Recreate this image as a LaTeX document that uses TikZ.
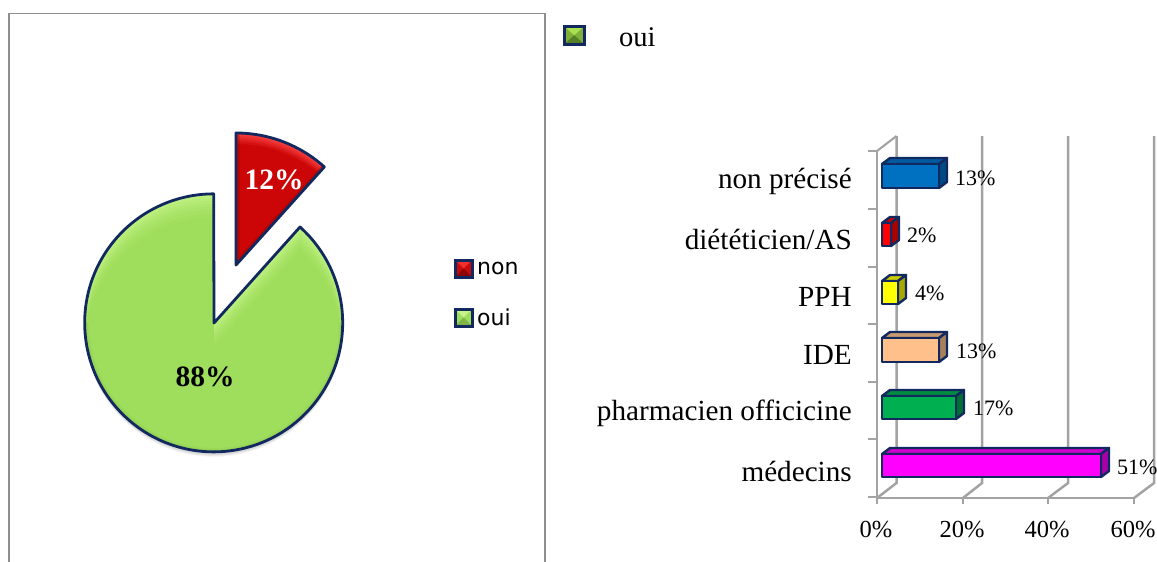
\documentclass[tikz,border=0pt]{standalone}
\usepackage{fontspec}
\setmainfont{Liberation Serif}
\newfontfamily\legendfont{DejaVu Sans}
\definecolor{navy}{HTML}{12295F}
\definecolor{framegray}{HTML}{8E8E8E}
\definecolor{axisgray}{HTML}{A3A3A3}
\definecolor{pgreen}{HTML}{9FDD5C}
\definecolor{pgreenhi}{HTML}{C8F88C}
\definecolor{pgreenlo}{HTML}{7FB548}
\definecolor{pred}{HTML}{CC0606}
\definecolor{predhi}{HTML}{FF4A4A}
\definecolor{predlo}{HTML}{8E0404}
\tikzset{
  framepath/.style={draw=framegray,line width=1.7pt},
  axisline/.style={draw=axisgray,line width=2.1pt},
  gridline/.style={draw=axisgray,line width=2.5pt},
  outline/.style={draw=navy,line width=2.8pt,line join=round},
  barface/.style={draw=navy,line width=2.4pt,line join=round},
  cat/.style={anchor=east,font=\fontsize{29.2}{30}\selectfont,inner sep=0pt},
  val/.style={anchor=west,font=\fontsize{22}{22}\selectfont,inner sep=0pt},
  tick label/.style={anchor=center,font=\fontsize{24.5}{25}\selectfont,inner sep=0pt},
  pielabel/.style={anchor=center,font=\fontsize{29.5}{30}\selectfont\bfseries,inner sep=0pt},
  leg/.style={anchor=west,font=\fontsize{22}{22}\selectfont\legendfont,inner sep=0pt},
}
% x0, y-top, x-right, y-bottom, front, top, side
\newcommand{\threedbar}[7]{%
  \definecolor{cfront}{HTML}{#5}\definecolor{ctop}{HTML}{#6}\definecolor{cside}{HTML}{#7}%
  \path[fill=ctop,barface] (#1,#2) -- (#1+8,#2-6) -- (#3+8,#2-6) -- (#3,#2) -- cycle;
  \path[fill=cside,barface] (#3,#2) -- (#3+8,#2-6) -- (#3+8,#4-6) -- (#3,#4) -- cycle;
  \path[fill=cfront,barface] (#1,#2) rectangle (#3,#4);
}
% swatch: x0,y0,x1,y1, hi, mid, lo
\newcommand{\swatch}[7]{%
  \definecolor{chi}{HTML}{#5}\definecolor{cmid}{HTML}{#6}\definecolor{clo}{HTML}{#7}%
  \fill[cmid] (#1,#2) rectangle (#3,#4);
  \fill[chi] (#1,#2) -- (#3,#2) -- ({(#1+#3)/2},{(#2+#4)/2}) -- cycle;
  \fill[clo] (#1,#4) -- (#3,#4) -- ({(#1+#3)/2},{(#2+#4)/2}) -- cycle;
  \draw[navy,line width=3pt] (#1,#2) rectangle (#3,#4);
}
\newcommand{\greenpie}{(214,323) -- (300,227) arc[start angle=-48,end angle=270,radius=129] -- cycle}
\newcommand{\redpie}{(236,265) -- (236,133) arc[start angle=-90,end angle=-48,radius=132] -- cycle}
\begin{document}
\begin{tikzpicture}[x=1pt,y=-1pt]
\useasboundingbox (0,0) rectangle (1157,562);
% frame
\draw[framepath] (9,562) -- (9,13.5) -- (545,13.5) -- (545,562);
% soft shadow
\begin{scope}
  \foreach \o/\a in {5/0.04,4/0.05,3/0.07}{
    \begin{scope}[shift={(0,\o)}]
      \fill[black,opacity=\a] \greenpie;
    \end{scope}
  }
\end{scope}
% green slice with bevel
\begin{scope}
  \clip \greenpie;
  \fill[pgreen] \greenpie;
  \begin{scope}[even odd rule]
    \foreach \s/\a in {24/0.08,20/0.1,16/0.12,13/0.15,10/0.2,7/0.25,4/0.35}{
      \begin{scope}[shift={(0,\s)}]
        \fill[pgreenhi,opacity=\a] (60,170) rectangle (360,470) \greenpie;
      \end{scope}
    }
  \end{scope}
  \foreach \w/\a in {8/0.12,5/0.18}{
    \draw[pgreenlo,line width=\w pt,opacity=\a] (85,323) arc[start angle=180,end angle=0,radius=129];
  }
\end{scope}
\draw[outline] \greenpie;
% red slice with bevel
\begin{scope}
  \clip \redpie;
  \fill[pred] \redpie;
  \begin{scope}[even odd rule]
    \foreach \s/\a in {11/0.15,9/0.2,7/0.25,5/0.3,3/0.4}{
      \begin{scope}[shift={(0,\s)}]
        \fill[predhi,opacity=\a] (200,100) rectangle (360,300) \redpie;
      \end{scope}
    }
  \end{scope}
  \draw[predlo,line width=7pt,opacity=0.35] (236,133) -- (236,265) -- (324,168);
\end{scope}
\draw[outline] \redpie;
\node[pielabel,text=white] (lab12) at (274,179.5) {12\%};
\node[pielabel] (lab88) at (205,377) {88\%};
% pie legend
\swatch{455}{260}{472}{277}{F03030}{C80A0A}{8E0505}
\node[leg] (legnon) at (477,268) {non};
\swatch{455}{309}{472}{326}{C4F58A}{9FDD5C}{7FB548}
\node[leg] (legoui) at (477,317) {oui};
% top legend
\swatch{564.5}{26.5}{584}{44}{A8E050}{7FAF3A}{577F28}
\node[anchor=west,inner sep=0pt,font=\fontsize{28.5}{29}\selectfont] (topoui) at (619,37.5) {oui};
% back wall gridlines and floor diagonals
\foreach \bx/\fx in {896.5/877,982/963,1068/1048,1154/1134}{
  \draw[gridline] (\bx,136) -- (\bx,483) -- (\fx,498);
}
\draw[axisline] (877,151) -- (896.5,136);
% axes
\draw[axisline] (877,151) -- (877,498);
\draw[axisline] (877,498) -- (1134,498);
\foreach \ty in {151,209,267,324,382,439,497}{
  \draw[axisline] (868,\ty) -- (877,\ty);
}
\foreach \tx in {877,963,1048,1134}{
  \draw[axisline] (\tx,498) -- (\tx,504);
}
% bars
\threedbar{882}{164}{939}{188}{0070C0}{005AA0}{004A85}
\threedbar{882}{223}{891}{246}{FF0000}{CC0000}{AA0000}
\threedbar{882}{281}{898}{304}{FFFF00}{CCCC00}{A8A800}
\threedbar{882}{338}{939}{362}{FFC08C}{C99A70}{A8805C}
\threedbar{882}{396}{956}{419}{00B050}{008C40}{007033}
\threedbar{882}{454}{1101}{477}{FF00FF}{CC00CC}{AA00AA}
% value labels
\node[val] (v1) at (955,178) {13\%};
\node[val] (v2) at (907,235) {2\%};
\node[val] (v3) at (915,293) {4\%};
\node[val] (v4) at (956,351) {13\%};
\node[val] (v5) at (973,408) {17\%};
\node[val] (v6) at (1117,467) {51\%};
% categories
\node[cat] (c1) at (852,181) {non précisé};
\node[cat] (c2) at (852,239) {diététicien/AS};
\node[cat] (c3) at (852,297) {PPH};
\node[cat] (c4) at (852,355) {IDE};
\node[cat] (c5) at (852,413) {pharmacien officicine};
\node[cat] (c6) at (852,471) {médecins};
% axis labels
\node[tick label] (t0) at (876,530) {0\%};
\node[tick label] (t20) at (962,530) {20\%};
\node[tick label] (t40) at (1047,530) {40\%};
\node[tick label] (t60) at (1133,530) {60\%};
\end{tikzpicture}
\end{document}
